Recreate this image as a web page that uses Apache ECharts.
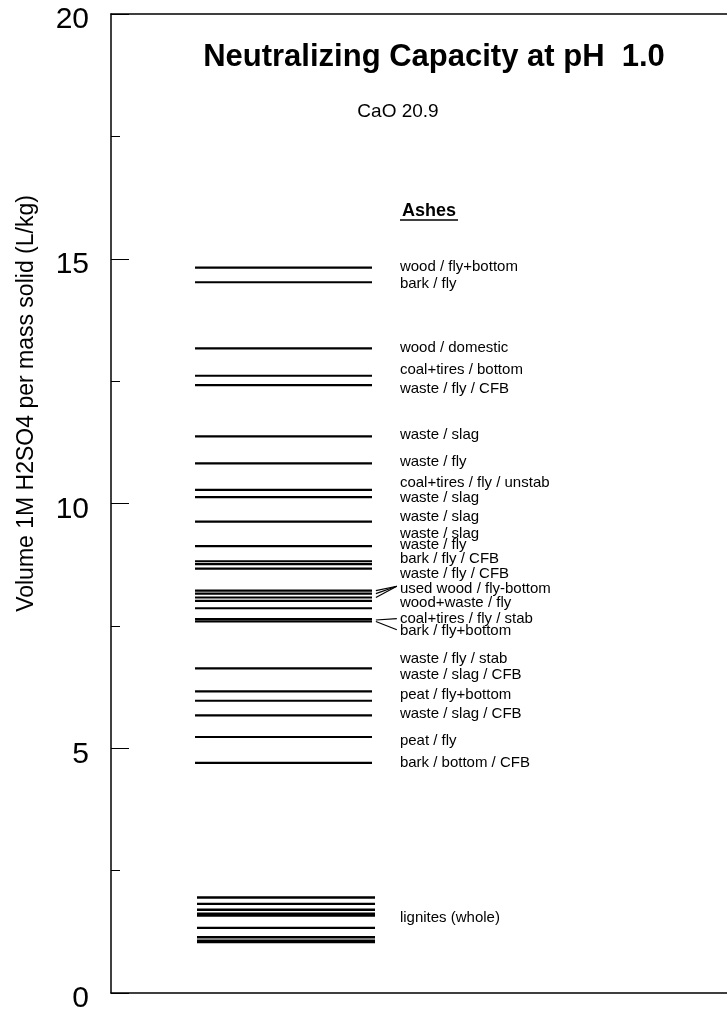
<!DOCTYPE html>
<html>
<head>
<meta charset="utf-8">
<script src="https://cdn.jsdelivr.net/npm/echarts@6/dist/echarts.min.js"></script>
<style>html,body{margin:0;padding:0;background:#fff}#c{width:727px;height:1014px}</style>
</head>
<body>
<div id="c"></div>
<script>
// ---- data ----
var yTicks = [0, 5, 10, 15, 20];
var ashLevels = [14.82, 14.52, 13.17, 12.61, 12.42, 11.37, 10.82, 10.28, 10.13, 9.63, 9.13,
  8.82, 8.76, 8.67, 8.22, 8.16, 8.08, 8.01, 7.86, 7.64, 7.59, 6.63, 6.16, 5.97, 5.67, 5.23, 4.70];
var ligniteLevels = [1.95, 1.82, 1.70, 1.62, 1.58, 1.33, 1.14, 1.07, 1.04];
var ashLabels = ['wood / fly+bottom', 'bark / fly', 'wood / domestic', 'coal+tires / bottom',
  'waste / fly / CFB', 'waste / slag', 'waste / fly', 'coal+tires / fly / unstab', 'waste / slag',
  'waste / slag', 'waste / slag', 'waste / fly', 'bark / fly / CFB', 'waste / fly / CFB',
  'used wood / fly-bottom', 'wood+waste / fly', 'coal+tires / fly / stab', 'bark / fly+bottom',
  'waste / fly / stab', 'waste / slag / CFB', 'peat / fly+bottom', 'waste / slag / CFB',
  'peat / fly', 'bark / bottom / CFB', 'lignites (whole)'];
var ashLabelPos = [14.84, 14.48, 13.17, 12.73, 12.35, 11.40, 10.86, 10.43, 10.11, 9.72, 9.38, 9.16,
  8.86, 8.56, 8.26, 7.97, 7.65, 7.39, 6.83, 6.49, 6.10, 5.71, 5.15, 4.70, 1.54];
// leader lines: [label value, line value]
var leaderFrom = [8.31, 8.31, 8.31, 7.65, 7.42];
var leaderTo = [8.22, 8.16, 8.08, 7.62, 7.59];

var FONT = "'Liberation Sans', Arial, Helvetica, sans-serif";
var chart = echarts.init(document.getElementById('c'));

function hLines(x0, x1, w) {
  return function (params, api) {
    var v = api.value(0);
    var a = api.coord([x0, v]), b = api.coord([x1, v]);
    return {type: 'line', shape: {x1: a[0], y1: a[1], x2: b[0], y2: b[1]},
      style: {stroke: '#000', lineWidth: w}};
  };
}

chart.setOption({
  animation: false,
  backgroundColor: '#fff',
  grid: {left: 111, right: 0, top: 14, bottom: 21},
  xAxis: [
    {type: 'value', min: 0, max: 100, position: 'bottom',
     axisLine: {show: true, onZero: false, lineStyle: {color: '#000', width: 1.5}},
     axisTick: {show: false}, axisLabel: {show: false}, splitLine: {show: false}},
    {type: 'value', min: 0, max: 100, position: 'top',
     axisLine: {show: true, onZero: false, lineStyle: {color: '#000', width: 1.5}},
     axisTick: {show: false}, axisLabel: {show: false}, splitLine: {show: false}}
  ],
  yAxis: {
    type: 'value', min: yTicks[0], max: yTicks[yTicks.length - 1], interval: 5,
    name: 'Volume 1M H2SO4 per mass solid (L/kg)', nameLocation: 'middle', nameGap: 73,
    nameRotate: 90,
    nameTextStyle: {fontFamily: FONT, fontSize: 23, color: '#000', padding: [0, 0, 0, 200]},
    axisLine: {show: true, onZero: false, lineStyle: {color: '#000', width: 1.5}},
    axisTick: {show: true, inside: true, length: 18, lineStyle: {color: '#000', width: 1}},
    minorTick: {show: true, splitNumber: 2, length: 9, lineStyle: {color: '#000', width: 1}},
    axisLabel: {fontFamily: FONT, fontSize: 30, color: '#000', margin: 22,
      verticalAlign: 'top', lineHeight: 12},
    splitLine: {show: false}, minorSplitLine: {show: false}
  },
  graphic: [
    {type: 'text', x: 434, y: 57, style: {text: 'Neutralizing Capacity at pH  1.0',
      textAlign: 'center', textVerticalAlign: 'middle',
      font: 'bold 31px ' + FONT, fill: '#000'}},
    {type: 'text', x: 398, y: 112, style: {text: 'CaO 20.9', textAlign: 'center',
      textVerticalAlign: 'middle', font: '19px ' + FONT, fill: '#000'}},
    {type: 'text', x: 429, y: 211, style: {text: 'Ashes', textAlign: 'center',
      textVerticalAlign: 'middle', font: 'bold 18px ' + FONT, fill: '#000'}},
    {type: 'line', shape: {x1: 400, y1: 220, x2: 458, y2: 220}, style: {stroke: '#000', lineWidth: 1.5}}
  ],
  series: [
    {type: 'custom', xAxisIndex: 0, data: ashLevels.map(function (v) { return [v]; }),
     renderItem: hLines(13.64, 42.37, 2.2), encode: {y: 0}},
    {type: 'custom', xAxisIndex: 0, data: ligniteLevels.map(function (v) { return [v]; }),
     renderItem: hLines(13.96, 42.86, 2.4), encode: {y: 0}},
    {type: 'custom', xAxisIndex: 0,
     data: ashLabels.map(function (t, i) { return [ashLabelPos[i], t]; }),
     encode: {y: 0},
     renderItem: function (params, api) {
       var p = api.coord([46.9, api.value(0)]);
       return {type: 'text', x: p[0], y: p[1], style: {text: ashLabels[params.dataIndex],
         textAlign: 'left', textVerticalAlign: 'middle', font: '15px ' + FONT, fill: '#000'}};
     }},
    {type: 'custom', xAxisIndex: 0,
     data: leaderFrom.map(function (v, i) { return [v, leaderTo[i]]; }),
     encode: {y: [0, 1]},
     renderItem: function (params, api) {
       var a = api.coord([46.4, api.value(0)]);
       var b = api.coord([43.0, api.value(1)]);
       return {type: 'line', shape: {x1: a[0], y1: a[1], x2: b[0], y2: b[1]},
         style: {stroke: '#000', lineWidth: 1.2}};
     }}
  ]
});
</script>
</body>
</html>
